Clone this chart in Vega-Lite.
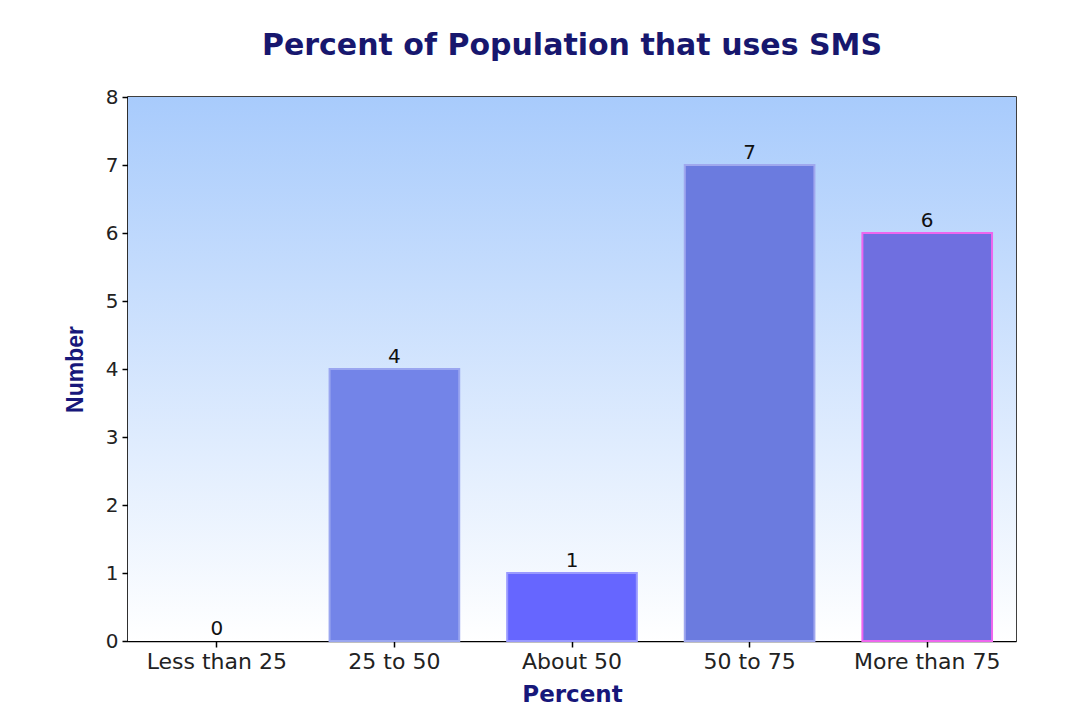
{
  "$schema": "https://vega.github.io/schema/vega-lite/v6.json",
  "width": 888,
  "height": 544,
  "autosize": {"type": "none"},
  "padding": {"left": 128, "top": 97, "right": 60, "bottom": 84},
  "background": "white",
  "title": {
    "text": "Percent of Population that uses SMS",
    "font": "DejaVu Sans",
    "fontSize": 30,
    "fontWeight": "bold",
    "color": "#17176e",
    "anchor": "middle",
    "baseline": "alphabetic",
    "offset": 2
  },
  "config": {
    "view": {"stroke": "black", "strokeWidth": 1.5},
    "axis": {
      "labelFont": "DejaVu Sans",
      "titleFont": "DejaVu Sans",
      "labelColor": "#222222",
      "labelFontSize": 20,
      "domainColor": "black",
      "domainWidth": 1.5,
      "tickColor": "black",
      "tickWidth": 1.5,
      "tickSize": 6,
      "grid": false,
      "titleColor": "#17177a",
      "titleFontSize": 23,
      "titleFontWeight": "bold"
    }
  },
  "layer": [
    {
      "data": {"values": [{}]},
      "mark": {
        "type": "rect",
        "color": {
          "gradient": "linear",
          "x1": 0, "y1": 0, "x2": 0, "y2": 1,
          "stops": [
            {"offset": 0, "color": "#a8cbfc"},
            {"offset": 1, "color": "#ffffff"}
          ]
        }
      },
      "encoding": {
        "x": {"value": 0},
        "x2": {"value": "width"},
        "y": {"value": 0},
        "y2": {"value": "height"}
      }
    },
    {
      "data": {
        "values": [
          {"category": "Less than 25", "value": 0},
          {"category": "25 to 50", "value": 4},
          {"category": "About 50", "value": 1},
          {"category": "50 to 75", "value": 7},
          {"category": "More than 75", "value": 6}
        ]
      },
      "encoding": {
        "x": {
          "field": "category",
          "type": "nominal",
          "sort": null,
          "scale": {"paddingInner": 0.27, "paddingOuter": 0.135},
          "axis": {
            "title": "Percent",
            "labelAngle": 0,
            "labelFontSize": 22,
            "labelPadding": 4,
            "titleY": 53,
            "titleBaseline": "middle"
          }
        },
        "y": {
          "field": "value",
          "type": "quantitative",
          "scale": {"domain": [0, 8], "nice": false},
          "axis": {
            "title": "Number",
            "titleFont": "Liberation Sans",
            "values": [0, 1, 2, 3, 4, 5, 6, 7, 8],
            "labelPadding": 4,
            "labelOverlap": false,
            "titleX": -53,
            "titleBaseline": "middle"
          }
        }
      },
      "layer": [
        {
          "mark": {"type": "bar", "strokeWidth": 2},
          "encoding": {
            "color": {
              "field": "category",
              "type": "nominal",
              "scale": {
                "domain": ["Less than 25", "25 to 50", "About 50", "50 to 75", "More than 75"],
                "range": ["#7384e8", "#7384e8", "#6666ff", "#6b7bdf", "#6f6fe0"]
              },
              "legend": null
            },
            "stroke": {
              "field": "category",
              "type": "nominal",
              "scale": {
                "domain": ["Less than 25", "25 to 50", "About 50", "50 to 75", "More than 75"],
                "range": ["rgba(0,0,0,0)", "#9aa6f0", "#9999ff", "#a0a8ee", "#ee66ee"]
              },
              "legend": null
            }
          }
        },
        {
          "mark": {
            "type": "text",
            "baseline": "bottom",
            "dy": -2,
            "font": "DejaVu Sans",
            "fontSize": 20,
            "color": "#111111"
          },
          "encoding": {
            "text": {"field": "value", "type": "quantitative"}
          }
        }
      ]
    }
  ]
}
